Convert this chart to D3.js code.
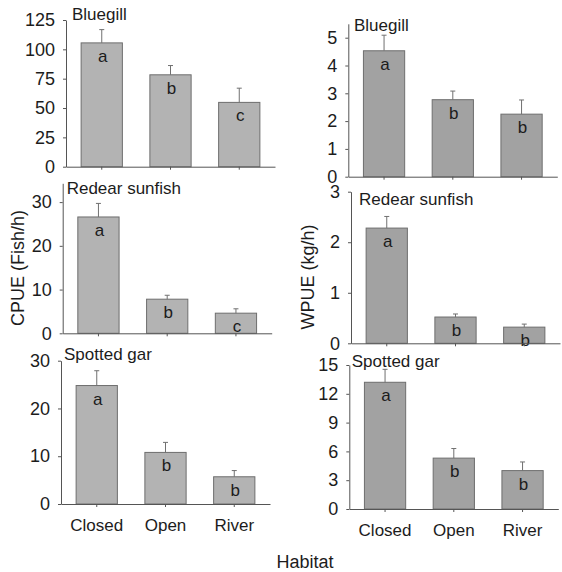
<!DOCTYPE html>
<html>
<head>
<meta charset="utf-8">
<script src="https://cdn.jsdelivr.net/npm/d3@7"></script>
<style>
  body { margin: 0; background: #fff; }
  svg { display: block; font-family: "Liberation Sans", Arial, sans-serif; }
</style>
</head>
<body>
<div id="chart"></div>
<script>
// categories
const habitats = ['Closed', 'Open', 'River'];

// CPUE (fish/h): means, standard errors, letters
const cpueBluegill = [105.5, 78.3, 54.8];
const cpueBluegillSE = [11.3, 7.9, 12.1];
const cpueBluegillLetters = ['a', 'b', 'c'];
const cpueRedear = [26.6, 7.8, 4.6];
const cpueRedearSE = [3.1, 0.9, 1.0];
const cpueRedearLetters = ['a', 'b', 'c'];
const cpueGar = [24.8, 10.8, 5.7];
const cpueGarSE = [3.1, 2.1, 1.3];
const cpueGarLetters = ['a', 'b', 'b'];

// WPUE (kg/h)
const wpueBluegill = [4.53, 2.77, 2.25];
const wpueBluegillSE = [0.56, 0.31, 0.51];
const wpueBluegillLetters = ['a', 'b', 'b'];
const wpueRedear = [2.28, 0.52, 0.32];
const wpueRedearSE = [0.23, 0.06, 0.06];
const wpueRedearLetters = ['a', 'b', 'b'];
const wpueGar = [13.2, 5.3, 4.0];
const wpueGarSE = [1.35, 1.0, 0.9];
const wpueGarLetters = ['a', 'b', 'b'];

// tick labels
const cpueBluegillTicks = [0, 25, 50, 75, 100, 125];
const cpueRedearTicks = [0, 10, 20, 30];
const cpueGarTicks = [0, 10, 20, 30];
const wpueBluegillTicks = [0, 1, 2, 3, 4, 5];
const wpueRedearTicks = [0, 1, 2, 3];
const wpueGarTicks = [0, 3, 6, 9, 12, 15];

const speciesNames = ['Bluegill', 'Redear sunfish', 'Spotted gar'];

const panels = [
  { name: speciesNames[0], vals: cpueBluegill, se: cpueBluegillSE, letters: cpueBluegillLetters, ticks: cpueBluegillTicks, max: 125 },
  { name: speciesNames[1], vals: cpueRedear, se: cpueRedearSE, letters: cpueRedearLetters, ticks: cpueRedearTicks, max: 34.3 },
  { name: speciesNames[2], vals: cpueGar, se: cpueGarSE, letters: cpueGarLetters, ticks: cpueGarTicks, max: 30, showX: true },
  { name: speciesNames[0], vals: wpueBluegill, se: wpueBluegillSE, letters: wpueBluegillLetters, ticks: wpueBluegillTicks, max: 5.5, right: true },
  { name: speciesNames[1], vals: wpueRedear, se: wpueRedearSE, letters: wpueRedearLetters, ticks: wpueRedearTicks, max: 3, right: true },
  { name: speciesNames[2], vals: wpueGar, se: wpueGarSE, letters: wpueGarLetters, ticks: wpueGarTicks, max: 15, right: true, showX: true }
];

// pixel layout of each panel: axis x, baseline y, top y, title position
const layout = [
  { x: 66, y0: 166.7, y1: 20, tx: 72, ty: 20 },
  { x: 62.7, y0: 333.3, y1: 183.3, tx: 66.7, ty: 194.3 },
  { x: 61, y0: 504, y1: 360.7, tx: 64, ty: 360 },
  { x: 348.3, y0: 176.7, y1: 23.8, tx: 354, ty: 30.7 },
  { x: 351, y0: 343.3, y1: 191.7, tx: 359, ty: 205 },
  { x: 349.3, y0: 509, y1: 365, tx: 351.7, ty: 366.7 }
];

const width = 562;
const height = 572;
const ink = '#1c1c1c';

const svg = d3.select('#chart')
  .append('svg')
  .attr('width', width)
  .attr('height', height);

panels.forEach((p, i) => {
  const L = layout[i];
  const g = svg.append('g');

  const x = d3.scaleBand()
    .domain(habitats)
    .range([L.x, L.x + 209])
    .paddingInner(0.4)
    .paddingOuter(0.22);

  const y = d3.scaleLinear()
    .domain([0, p.max])
    .range([L.y0, L.y1]);

  // bars
  g.selectAll('rect.bar')
    .data(p.vals)
    .enter().append('rect')
    .attr('class', 'bar')
    .attr('x', (d, j) => x(habitats[j]))
    .attr('y', d => y(d))
    .attr('width', x.bandwidth())
    .attr('height', d => y(0) - y(d))
    .style('fill', p.right ? '#a2a2a2' : '#b3b3b3')
    .style('stroke', '#6e6e6e')
    .style('stroke-width', 1);

  // error bars (upper only)
  const cx = j => x(habitats[j]) + x.bandwidth() / 2;
  g.selectAll('line.err')
    .data(p.vals)
    .enter().append('line')
    .attr('x1', (d, j) => cx(j))
    .attr('x2', (d, j) => cx(j))
    .attr('y1', d => y(d))
    .attr('y2', (d, j) => y(d + p.se[j]))
    .style('stroke', '#707070')
    .style('stroke-width', 1);
  g.selectAll('line.cap')
    .data(p.vals)
    .enter().append('line')
    .attr('x1', (d, j) => cx(j) - 2.5)
    .attr('x2', (d, j) => cx(j) + 2.5)
    .attr('y1', (d, j) => y(d + p.se[j]))
    .attr('y2', (d, j) => y(d + p.se[j]))
    .style('stroke', '#707070')
    .style('stroke-width', 1);

  // significance letters
  g.selectAll('text.letter')
    .data(p.letters)
    .enter().append('text')
    .attr('x', (d, j) => cx(j) + 1)
    .attr('y', (d, j) => y(p.vals[j]) + 19)
    .attr('text-anchor', 'middle')
    .style('font-size', '17px')
    .style('fill', ink)
    .text(d => d);

  // y axis
  const yAxis = d3.axisLeft(y)
    .tickValues(p.ticks)
    .tickSize(3)
    .tickSizeOuter(0)
    .tickPadding(8)
    .tickFormat(d3.format('d'));
  const ya = g.append('g')
    .attr('transform', `translate(${L.x},0)`)
    .call(yAxis);
  ya.selectAll('text').style('font-size', '18px').style('fill', ink);

  // x axis
  const xAxis = d3.axisBottom(x)
    .tickSize(3)
    .tickSizeOuter(0)
    .tickPadding(12)
    .tickFormat(d => p.showX ? d : '');
  const xa = g.append('g')
    .attr('transform', `translate(0,${L.y0})`)
    .call(xAxis);
  xa.selectAll('text').style('font-size', '17px').style('fill', ink);

  [ya, xa].forEach(a => {
    a.select('.domain').style('stroke', '#555');
    a.selectAll('.tick line').style('stroke', '#555');
  });

  // panel title
  g.append('text')
    .attr('x', L.tx)
    .attr('y', L.ty)
    .style('font-size', '17px')
    .style('fill', ink)
    .text(p.name);
});

// axis titles
svg.append('text')
  .attr('transform', 'translate(24,268) rotate(-90)')
  .attr('text-anchor', 'middle')
  .style('font-size', '18px')
  .style('fill', ink)
  .text('CPUE (Fish/h)');

svg.append('text')
  .attr('transform', 'translate(314,277) rotate(-90)')
  .attr('text-anchor', 'middle')
  .style('font-size', '18px')
  .style('fill', ink)
  .text('WPUE (kg/h)');

svg.append('text')
  .attr('x', 305)
  .attr('y', 568)
  .attr('text-anchor', 'middle')
  .style('font-size', '18px')
  .style('fill', ink)
  .text('Habitat');
</script>
</body>
</html>
